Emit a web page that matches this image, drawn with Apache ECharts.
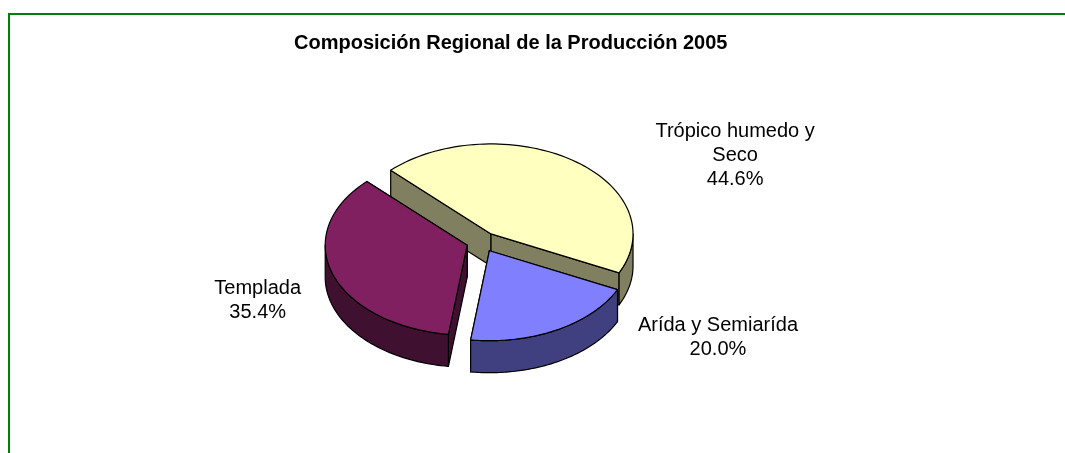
<!DOCTYPE html>
<html>
<head>
<meta charset="utf-8">
<script src="https://cdn.jsdelivr.net/npm/echarts@6/dist/echarts.min.js"></script>
<style>
  html, body { margin: 0; padding: 0; background: #fff; }
  #chart { width: 1065px; height: 453px; }
</style>
</head>
<body>
<div id="chart"></div>
<script>
const categories = ['Arída y Semiarída', 'Templada', 'Trópico humedo y Seco'];
const values = [20.0, 35.4, 44.6];
const topColors = ['#8080FF', '#802060', '#FFFFC0'];
const sideColors = ['#404080', '#401030', '#808060'];

// tilted pie layout, pixels
const pie = { cx: 482, cy: 242, rx: 142, ry: 90, depth: 32, explode: 0.11, startAngle: -25.6 };
// label shift from the rim point in the middle of each slice
const labelShift = [[161, 8], [-75, 26], [162, -5]];
const labelMaxWidth = 185;
const font = '"Liberation Sans", Arial, sans-serif';

const total = values.reduce((a, b) => a + b, 0);
const rad = d => d * Math.PI / 180;

// greedy word wrap like the spreadsheet does
const ctx = document.createElement('canvas').getContext('2d');
ctx.font = '20px ' + font;
function wrap(text) {
    const lines = [];
    let cur = '';
    text.split(' ').forEach(w => {
        const t = cur ? cur + ' ' + w : w;
        if (cur && ctx.measureText(t).width > labelMaxWidth) { lines.push(cur); cur = w; }
        else cur = t;
    });
    lines.push(cur);
    return lines.join('\n');
}

// slices run clockwise from startAngle
const slices = (() => {
    let a = pie.startAngle;
    return values.map(v => {
        const s = a, e = a - v / total * 360;
        a = e;
        return { s, e, mid: (s + e) / 2 };
    });
})();
// back slices are drawn first
const rank = slices.map((sl, i) => i)
    .sort((a, b) => Math.sin(rad(slices[b].mid)) - Math.sin(rad(slices[a].mid)));

function renderItem(params, api) {
    const i = params.dataIndex;
    const sl = slices[i];
    const m = rad(sl.mid);
    const ox = pie.cx + pie.explode * pie.rx * Math.cos(m);
    const oy = pie.cy - pie.explode * pie.ry * Math.sin(m);
    const d = pie.depth;
    const pt = (deg, dz) => [ox + pie.rx * Math.cos(rad(deg)), oy - pie.ry * Math.sin(rad(deg)) + dz];
    const base = rank.indexOf(i) * 10;
    const style = fill => ({ fill, stroke: '#000', lineWidth: 1.2, lineJoin: 'round' });
    const steps = 80;
    const children = [];

    // radial walls
    [[sl.s, Math.cos(rad(sl.s)) < 0], [sl.e, Math.cos(rad(sl.e)) > 0]].forEach(([ang, front]) => {
        children.push({
            type: 'polygon',
            z2: base + (front ? 2 : 1),
            shape: { points: [[ox, oy], pt(ang, 0), pt(ang, d), [ox, oy + d]] },
            style: style(sideColors[i])
        });
    });

    // outer wall, only the part facing us
    const angs = [];
    for (let k = 0; k <= steps; k++) angs.push(sl.s - (sl.s - sl.e) * k / steps);
    for (let c = Math.ceil(sl.e / 180) * 180; c <= sl.s; c += 180) angs.push(c);
    angs.sort((a, b) => b - a);
    const runs = [];
    let run = [];
    angs.forEach(t => {
        if (Math.sin(rad(t)) <= 1e-9) run.push(t);
        else { if (run.length > 1) runs.push(run); run = []; }
    });
    if (run.length > 1) runs.push(run);
    runs.forEach(r => {
        const top = r.map(t => pt(t, 0));
        const bot = r.slice().reverse().map(t => pt(t, d));
        children.push({
            type: 'polygon',
            z2: base + 3,
            shape: { points: top.concat(bot) },
            style: style(sideColors[i])
        });
    });

    // top face
    const face = [[ox, oy]];
    for (let k = 0; k <= steps; k++) face.push(pt(sl.s - (sl.s - sl.e) * k / steps, 0));
    children.push({
        type: 'polygon',
        z2: base + 4,
        shape: { points: face },
        style: style(topColors[i])
    });

    // label
    const lp = pt(sl.mid, 0);
    children.push({
        type: 'text',
        z2: 100,
        x: lp[0] + labelShift[i][0],
        y: lp[1] + labelShift[i][1],
        style: {
            text: wrap(categories[i]) + '\n' + values[i].toFixed(1) + '%',
            fill: '#000',
            fontSize: 20,
            fontFamily: font,
            align: 'center',
            verticalAlign: 'middle',
            lineHeight: 24
        }
    });

    return { type: 'group', children };
}

const chart = echarts.init(document.getElementById('chart'));
chart.setOption({
    animation: false,
    backgroundColor: '#fff',
    title: {
        text: 'Composición Regional de la Producción 2005',
        left: 294,
        top: 33,
        padding: 0,
        textStyle: {
            fontSize: 20,
            fontWeight: 'bold',
            fontFamily: font,
            color: '#000',
            lineHeight: 21
        }
    },
    graphic: [{
        type: 'polyline',
        shape: { points: [[9, 460], [9, 14], [1070, 14]] },
        style: { stroke: '#008000', lineWidth: 2, fill: null }
    }],
    series: [{
        type: 'custom',
        coordinateSystem: 'none',
        renderItem,
        data: values.map((v, i) => ({ name: categories[i], value: v }))
    }]
});
</script>
</body>
</html>
